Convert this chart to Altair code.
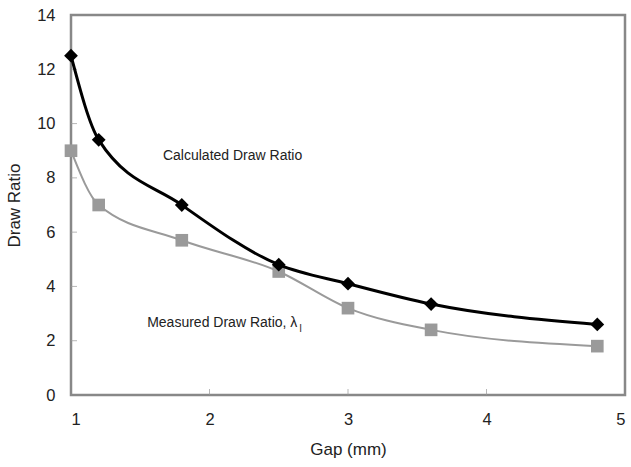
import altair as alt
import pandas as pd

gap = [1.0, 1.2, 1.8, 2.5, 3.0, 3.6, 4.8]
calculated = [12.5, 9.4, 7.0, 4.8, 4.1, 3.35, 2.6]
measured = [9.0, 7.0, 5.7, 4.55, 3.2, 2.4, 1.8]
x_ticks = [1, 2, 3, 4, 5]
y_ticks = [0, 2, 4, 6, 8, 10, 12, 14]

calc_df = pd.DataFrame({"gap": gap, "ratio": calculated})
meas_df = pd.DataFrame({"gap": gap, "ratio": measured})

FONT = "Liberation Sans"

x = alt.X("gap:Q", scale=alt.Scale(domain=[1, 5], nice=False),
          axis=alt.Axis(values=x_ticks, title="Gap (mm)", grid=False,
                        domain=False, ticks=False, labelFont=FONT, titleFont=FONT,
                        labelFontSize=16.5, titleFontSize=17, labelColor="#222",
                        titleColor="#222", titleFontWeight="normal",
                        labelPadding=16, titlePadding=14, format="d"))
y = alt.Y("ratio:Q", scale=alt.Scale(domain=[0, 14], nice=False),
          axis=alt.Axis(values=y_ticks, title="Draw Ratio", grid=False,
                        domain=False, ticks=False, labelFont=FONT, titleFont=FONT,
                        labelFontSize=16.5, titleFontSize=17, labelColor="#222",
                        titleColor="#222", titleFontWeight="normal",
                        labelPadding=16, titlePadding=13))

yt = alt.Chart(pd.DataFrame({"v": y_ticks[1:-1]})).mark_tick(
    color="#999", thickness=1, size=6, orient="horizontal").encode(
    y=alt.Y("v:Q"), x=alt.value(3))
xt = alt.Chart(pd.DataFrame({"v": x_ticks[1:-1]})).mark_tick(
    color="#999", thickness=1, size=6, orient="vertical").encode(
    x=alt.X("v:Q"), y=alt.value(377))

meas_line = alt.Chart(meas_df).mark_line(color="#9a9a9a", strokeWidth=2,
                                         interpolate="monotone").encode(x=x, y=y)
meas_pts = alt.Chart(meas_df).mark_point(shape="square", filled=True, color="#9a9a9a",
                                         size=160, opacity=1).encode(x="gap:Q", y="ratio:Q")
calc_line = alt.Chart(calc_df).mark_line(color="black", strokeWidth=3,
                                         interpolate="monotone").encode(x="gap:Q", y="ratio:Q")
calc_pts = alt.Chart(calc_df).mark_point(shape="diamond", filled=True, color="black",
                                         size=190, opacity=1).encode(x="gap:Q", y="ratio:Q")

lab_calc = alt.Chart(pd.DataFrame({"gap": [1.664], "ratio": [8.8], "t": ["Calculated Draw Ratio"]})).mark_text(
    align="left", baseline="middle", font=FONT, fontSize=14, color="#222").encode(
    x="gap:Q", y="ratio:Q", text="t:N")
lab_meas = alt.Chart(pd.DataFrame({"gap": [1.55], "ratio": [2.65], "t": ["Measured Draw Ratio, λ"]})).mark_text(
    align="left", baseline="middle", font=FONT, fontSize=14, color="#222").encode(
    x="gap:Q", y="ratio:Q", text="t:N")
lab_sub = alt.Chart(pd.DataFrame({"gap": [2.65], "ratio": [2.42], "t": ["l"]})).mark_text(
    align="left", baseline="middle", font=FONT, fontSize=10, color="#222").encode(
    x="gap:Q", y="ratio:Q", text="t:N")

chart = alt.layer(meas_line, yt, xt, meas_pts, calc_line, calc_pts, lab_calc, lab_meas, lab_sub).properties(
    width=554, height=380,
    autosize=alt.AutoSizeParams(type="none"),
    padding={"left": 71, "top": 15, "right": 6, "bottom": 72},
    background="white",
).configure_view(
    stroke="#888", strokeWidth=2.5
)

chart.save("out.html", embed_options={"renderer": "svg", "actions": False})
